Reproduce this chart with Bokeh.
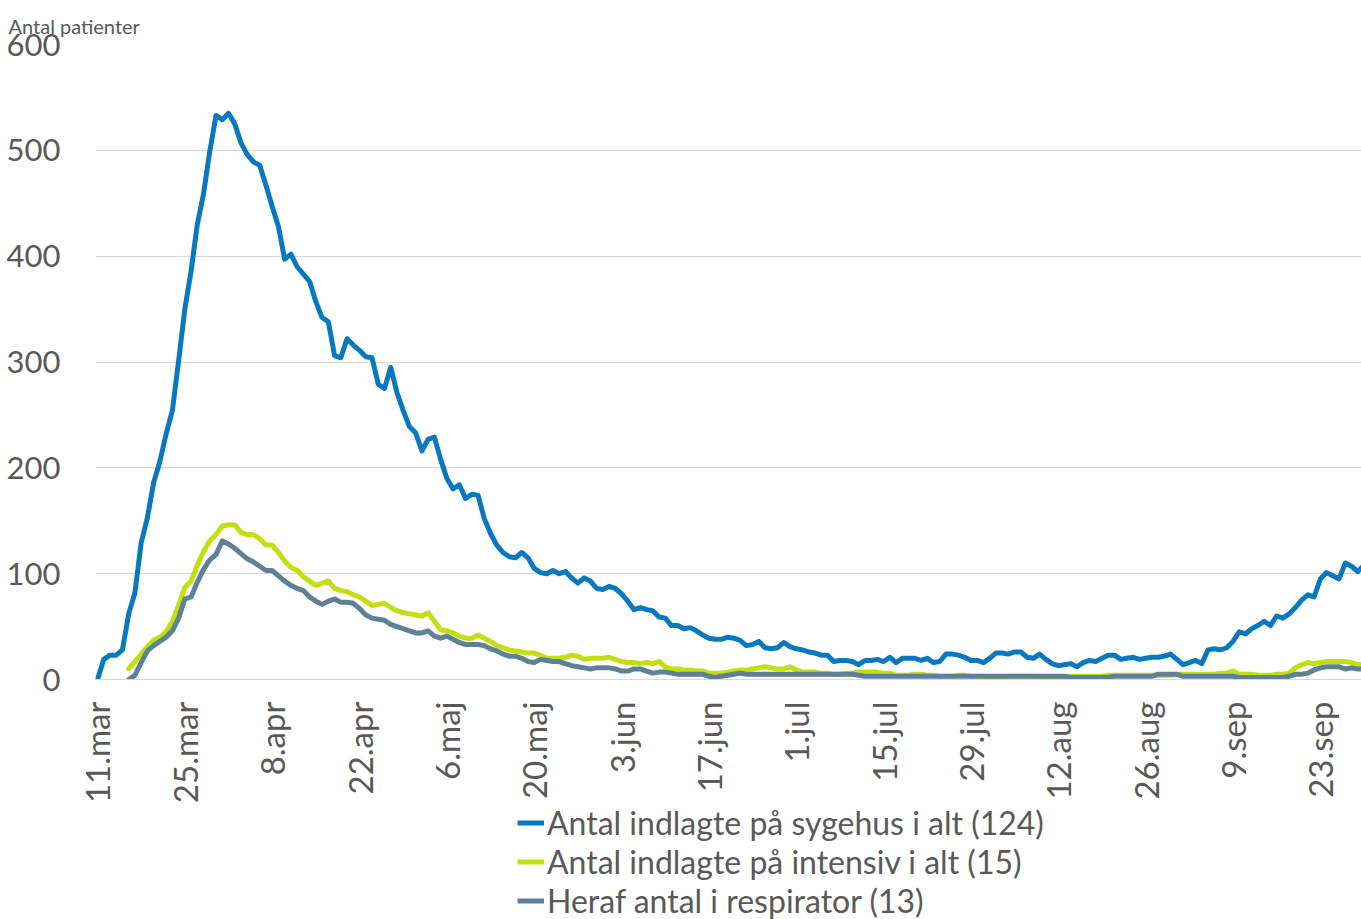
import math
import numpy as np
import pandas as pd
from bokeh.plotting import figure
from bokeh.layouts import column
from bokeh.models import FixedTicker, Legend, LegendItem, Range1d, ColumnDataSource
from bokeh.embed import file_html
from bokeh.resources import INLINE

start_date = "2020-03-11"

# Antal indlagte på sygehus i alt (daily from 11 Mar)
hospital = [
    0, 19, 23, 23, 28, 62, 82, 129, 153, 186,
    206, 232, 254, 301, 350, 386, 430, 459, 499, 533,
    529, 535, 525, 507, 496, 489, 486, 467, 447, 428,
    397, 402, 390, 383, 376, 357, 342, 338, 306, 304,
    322, 316, 311, 305, 304, 279, 275, 295, 271, 254,
    239, 233, 216, 227, 229, 208, 190, 180, 184, 171,
    175, 174, 152, 138, 127, 120, 116, 115, 120, 115,
    105, 101, 100, 103, 100, 102, 96, 91, 96, 93,
    86, 85, 88, 86, 81, 74, 66, 68, 66, 65,
    59, 58, 51, 51, 48, 49, 46, 42, 39, 38,
    38, 40, 39, 37, 32, 33, 36, 30, 29, 30,
    35, 31, 29, 28, 26, 25, 23, 23, 17, 18,
    18, 17, 14, 18, 18, 19, 17, 21, 16, 20,
    20, 20, 18, 20, 16, 17, 24, 24, 23, 21,
    18, 18, 16, 20, 25, 25, 24, 26, 26, 21,
    20, 24, 19, 15, 13, 14, 15, 12, 16, 18,
    17, 20, 23, 23, 19, 20, 21, 19, 20, 21,
    21, 22, 24, 19, 14, 16, 18, 15, 28, 29,
    28, 30, 36, 45, 43, 48, 51, 55, 51, 60,
    58, 62, 68, 75, 80, 78, 95, 101, 98, 95,
    110, 107, 102, 108,
]

# Antal indlagte på intensiv i alt
intensive = [
    None, None, None, None, None, 10, 17, 24, 31, 37,
    40, 45, 55, 70, 87, 93, 108, 121, 131, 137,
    145, 146, 146, 139, 137, 137, 133, 127, 127, 120,
    112, 106, 103, 97, 93, 89, 91, 93, 86, 84,
    83, 80, 78, 74, 70, 71, 72, 68, 65, 63,
    62, 61, 60, 63, 55, 47, 46, 44, 41, 39,
    39, 42, 39, 36, 32, 30, 28, 27, 26, 25,
    25, 23, 20, 20, 20, 21, 23, 22, 19, 20,
    20, 20, 21, 19, 17, 16, 16, 15, 16, 15,
    17, 12, 10, 10, 9, 9, 8, 8, 6, 6,
    6, 7, 8, 9, 9, 10, 11, 12, 11, 10,
    10, 12, 9, 7, 7, 7, 6, 6, 5, 5,
    6, 6, 7, 7, 7, 7, 6, 6, 4, 4,
    4, 5, 5, 4, 4, 3, 3, 3, 4, 4,
    3, 3, 3, 2, 2, 2, 3, 3, 3, 3,
    3, 2, 2, 2, 2, 2, 3, 3, 3, 3,
    3, 3, 4, 4, 4, 4, 4, 4, 4, 4,
    4, 4, 4, 5, 5, 5, 5, 5, 5, 5,
    6, 6, 8, 5, 5, 5, 4, 4, 4, 5,
    5, 6, 11, 14, 16, 15, 16, 17, 17, 17,
    17, 16, 14, 14,
]

# Heraf antal i respirator
respirator = [
    None, None, None, None, None, 0, 4, 16, 27, 32,
    36, 40, 46, 58, 76, 78, 92, 104, 113, 118,
    131, 128, 124, 119, 114, 111, 107, 103, 103, 98,
    93, 89, 86, 84, 78, 74, 71, 74, 76, 73,
    73, 72, 67, 61, 58, 57, 56, 52, 50, 48,
    46, 44, 44, 46, 41, 39, 41, 38, 35, 33,
    33, 33, 32, 29, 27, 24, 22, 22, 20, 17,
    16, 19, 18, 17, 17, 15, 13, 12, 11, 10,
    11, 11, 11, 10, 8, 8, 10, 10, 8, 6,
    7, 7, 6, 5, 5, 5, 5, 5, 3, 2,
    3, 4, 5, 6, 5, 5, 5, 5, 5, 5,
    5, 5, 5, 5, 5, 5, 5, 5, 5, 5,
    5, 5, 4, 3, 3, 3, 3, 3, 3, 3,
    3, 3, 3, 3, 3, 3, 3, 3, 3, 3,
    3, 3, 3, 3, 3, 3, 3, 3, 3, 3,
    3, 3, 3, 3, 3, 3, 2, 2, 2, 2,
    2, 2, 2, 3, 3, 3, 3, 3, 3, 3,
    5, 5, 5, 5, 3, 3, 3, 3, 3, 3,
    3, 3, 3, 2, 2, 2, 2, 2, 2, 2,
    2, 3, 5, 5, 6, 9, 11, 12, 12, 12,
    10, 11, 10, 10,
]

tick_dates = ["2020-03-11", "2020-03-25", "2020-04-08", "2020-04-22", "2020-05-06",
              "2020-05-20", "2020-06-03", "2020-06-17", "2020-07-01", "2020-07-15",
              "2020-07-29", "2020-08-12", "2020-08-26", "2020-09-09", "2020-09-23"]
tick_labels = ["11.mar", "25.mar", "8.apr", "22.apr", "6.maj", "20.maj", "3.jun",
               "17.jun", "1.jul", "15.jul", "29.jul", "12.aug", "26.aug", "9.sep", "23.sep"]
y_ticks = [0, 100, 200, 300, 400, 500, 600]

series_labels = ["Antal indlagte på sygehus i alt (124)",
                 "Antal indlagte på intensiv i alt (15)",
                 "Heraf antal i respirator (13)"]
colors = ["#0879C1", "#C2DF12", "#5E8197"]
series_cols = ["hospital", "intensive", "respirator"]

t0 = pd.Timestamp(start_date)
dates = pd.date_range(start_date, periods=len(hospital), freq="D")
day = [(d - t0).days for d in dates]
tick_days = [(pd.Timestamp(d) - t0).days for d in tick_dates]

src = ColumnDataSource(dict(
    day=day,
    hospital=np.array(hospital, dtype=float),
    intensive=np.array([np.nan if v is None else v for v in intensive], dtype=float),
    respirator=np.array([np.nan if v is None else v for v in respirator], dtype=float),
))

FONT = "Lato"
TXT = "#595959"
LW = 5

TOP, FRAME_H, BOTTOM = 44, 635, 124

p = figure(frame_width=1266, frame_height=FRAME_H,
           x_range=Range1d(-0.32, 202.6), y_range=Range1d(0, 600),
           output_backend="svg", toolbar_location=None,
           min_border_left=95, min_border_right=0, min_border_top=TOP, min_border_bottom=BOTTOM)

p.title.text = "Antal patienter"
p.title.text_font = FONT
p.title.text_font_size = "20px"
p.title.text_font_style = "normal"
p.title.text_color = TXT
p.title.align = "left"
p.title.offset = -87
p.title.standoff = 14

p.outline_line_color = None
p.background_fill_color = "white"
p.border_fill_color = "white"

p.xgrid.visible = False
p.ygrid.grid_line_color = "#D9D9D9"
p.ygrid.grid_line_width = 1

p.yaxis.ticker = FixedTicker(ticks=y_ticks)
p.yaxis.axis_line_color = None
p.yaxis.major_tick_line_color = None
p.yaxis.minor_tick_line_color = None
p.yaxis.major_label_text_font = FONT
p.yaxis.major_label_text_font_size = "31px"
p.yaxis.major_label_text_color = TXT
p.yaxis.major_label_standoff = 29

p.xaxis.ticker = FixedTicker(ticks=tick_days)
p.xaxis.major_label_overrides = {d: lab for d, lab in zip(tick_days, tick_labels)}
p.xaxis.major_label_orientation = math.pi / 2
p.xaxis.axis_line_color = "#D9D9D9"
p.xaxis.axis_line_width = 1
p.xaxis.major_tick_line_color = None
p.xaxis.minor_tick_line_color = None
p.xaxis.major_label_text_font = FONT
p.xaxis.major_label_text_font_size = "33px"
p.xaxis.major_label_text_color = TXT
p.xaxis.major_label_standoff = 16

for col, c in zip(series_cols, colors):
    p.line("day", col, source=src, line_color=c, line_width=LW,
           line_join="round", line_cap="round")

# Legend holder below the chart (its data ranges lie outside the data, so only the legend shows)
p_h = TOP + FRAME_H + BOTTOM
lg = figure(width=1361, height=919 - p_h - 2, x_range=Range1d(-1000, -999), y_range=Range1d(-1000, -999),
            output_backend="svg", toolbar_location=None,
            min_border_left=0, min_border_right=0, min_border_top=0, min_border_bottom=0)
lg.axis.visible = False
lg.grid.visible = False
lg.outline_line_color = None
lg.border_fill_color = "white"
lg.background_fill_color = "white"

legend_renderers = []
for col, c in zip(series_cols, colors):
    r = lg.line("day", col, source=src, line_color=c, line_width=LW)
    legend_renderers.append(r)

legend = Legend(items=[LegendItem(label=lab, renderers=[r]) for lab, r in zip(series_labels, legend_renderers)],
                location=(422, 0), orientation="vertical")
legend.label_text_font = FONT
legend.label_text_font_size = "32px"
legend.label_text_color = TXT
legend.glyph_width = 27
legend.glyph_height = 37
legend.label_height = 37
legend.label_standoff = 3
legend.spacing = 0
legend.padding = 0
legend.margin = 0
legend.border_line_color = None
legend.background_fill_alpha = 0
lg.add_layout(legend, "center")

layout = column(p, lg, spacing=0)
open("out.html", "w").write(file_html(layout, INLINE))
